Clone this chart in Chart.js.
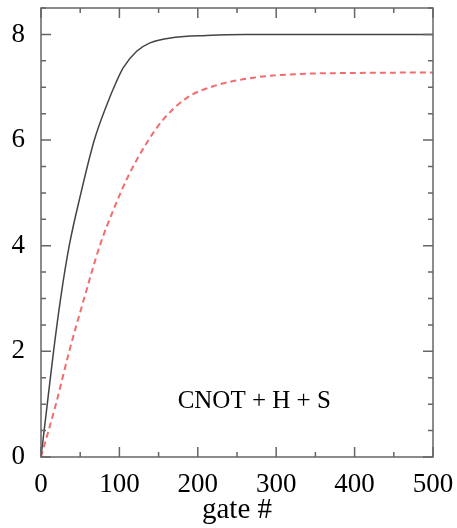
<!DOCTYPE html>
<html>
<head>
<meta charset="utf-8">
<script src="https://cdn.jsdelivr.net/npm/chart.js@4/dist/chart.umd.min.js"></script>
<style>
  html, body { margin: 0; padding: 0; background: #fff; }
  #wrap { width: 457px; height: 528px; }
</style>
</head>
<body>
<div id="wrap"><canvas id="chart"></canvas></div>
<script>
// data
const blackX = [0, 8, 16, 25, 36, 51, 68, 84, 96, 105, 122, 139, 169, 211, 260, 350, 500];
const blackY = [0, 1, 2, 3, 4, 5, 6, 6.67, 7.1, 7.37, 7.68, 7.84, 7.94, 7.98, 8, 8, 8];
const redX = [0, 19, 36, 55, 75, 93, 111, 135, 156, 186, 220, 271, 330, 400, 500];
const redY = [0, 1, 2, 3, 4, 4.7, 5.31, 5.95, 6.39, 6.8, 7.02, 7.18, 7.25, 7.27, 7.28];
const xTicks = [0, 100, 200, 300, 400, 500];
const yTicks = [0, 2, 4, 6, 8];

const pts = (xs, ys) => xs.map((x, i) => ({ x: x, y: ys[i] }));
const serif = "'Liberation Serif', 'DejaVu Serif', serif";

// frame + inward ticks on all four sides
const frame = {
    id: 'frame',
    afterDraw(chart) {
        const c = chart.ctx, a = chart.chartArea;
        const xs = chart.scales.x, ys = chart.scales.y;
        c.save();
        c.strokeStyle = '#666';
        c.lineWidth = 1.5;
        c.strokeRect(a.left, a.top, a.right - a.left, a.bottom - a.top);
        c.beginPath();
        for (let v = 0; v <= 500; v += 50) {
            const p = xs.getPixelForValue(v);
            const len = v % 100 === 0 ? 10 : 5;
            c.moveTo(p, a.bottom); c.lineTo(p, a.bottom - len);
            c.moveTo(p, a.top); c.lineTo(p, a.top + len);
        }
        for (let v = 0; v <= 8.5; v += 0.5) {
            const p = ys.getPixelForValue(v);
            const len = v % 2 === 0 ? 10 : 5;
            c.moveTo(a.left, p); c.lineTo(a.left + len, p);
            c.moveTo(a.right, p); c.lineTo(a.right - len, p);
        }
        c.stroke();
        c.fillStyle = '#000';
        c.font = "25px " + serif;
        c.textAlign = 'center';
        c.textBaseline = 'middle';
        c.fillText('CNOT + H + S', xs.getPixelForValue(272), ys.getPixelForValue(1.06));
        c.restore();
    }
};

new Chart(document.getElementById('chart'), {
    type: 'scatter',
    data: {
        datasets: [{
            data: pts(blackX, blackY),
            showLine: true,
            borderColor: '#444',
            borderWidth: 1.5,
            pointRadius: 0,
            cubicInterpolationMode: 'monotone'
        }, {
            data: pts(redX, redY),
            showLine: true,
            borderColor: '#f26d6d',
            borderWidth: 2,
            borderDash: [6, 4],
            pointRadius: 0,
            cubicInterpolationMode: 'monotone'
        }]
    },
    options: {
        responsive: true,
        maintainAspectRatio: false,
        animation: false,
        layout: { padding: { top: 8, right: 24, left: 0, bottom: 0 } },
        plugins: { legend: { display: false }, tooltip: { enabled: false } },
        scales: {
            x: {
                type: 'linear',
                min: 0, max: 500,
                grid: { display: false },
                border: { display: false },
                afterBuildTicks: s => { s.ticks = xTicks.map(v => ({ value: v })); },
                afterFit: s => { s.height = 71; s.paddingLeft = 0; s.paddingRight = 0; },
                ticks: { color: '#000', font: { family: serif, size: 27 }, padding: 4, maxRotation: 0 },
                title: { display: true, text: 'gate #', color: '#000', font: { family: serif, size: 29 }, padding: { top: -6, bottom: 0 } }
            },
            y: {
                min: 0, max: 8.5,
                grid: { display: false },
                border: { display: false },
                afterBuildTicks: s => { s.ticks = yTicks.map(v => ({ value: v })); },
                afterFit: s => { s.width = 41; s.paddingTop = 0; s.paddingBottom = 0; },
                ticks: { color: '#000', font: { family: serif, size: 27 }, padding: 8 }
            }
        }
    },
    plugins: [frame]
});
</script>
</body>
</html>
